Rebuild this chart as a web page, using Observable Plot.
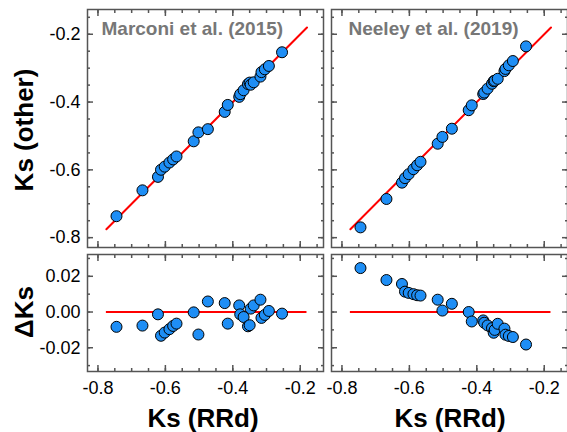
<!DOCTYPE html>
<html><head><meta charset="utf-8">
<script src="https://cdn.jsdelivr.net/npm/d3@7"></script>
<script src="https://cdn.jsdelivr.net/npm/@observablehq/plot@0.6"></script>
<style>
body{margin:0;background:#fff;}
#chart{position:relative;width:567px;height:432px;overflow:hidden;font-family:"Liberation Sans",Arial,Helvetica,sans-serif;}
#chart svg{position:absolute;overflow:visible;}
.lab{position:absolute;font-weight:bold;font-size:26px;line-height:1;color:#000;white-space:nowrap;transform:translate(-50%,-50%);}
.rot{transform:translate(-50%,-50%) rotate(-90deg);}
</style></head><body><div id="chart"></div>
<script>
// Data: Ks from RRd (x) and differences ΔKs = Ks(RRd) - Ks(other)
const ksRRd    = [-0.745,-0.668,-0.622,-0.613,-0.602,-0.588,-0.577,-0.567,-0.516,-0.502,-0.474,-0.424,-0.415,-0.381,-0.378,-0.368,-0.355,-0.350,-0.347,-0.338,-0.318,-0.315,-0.305,-0.293,-0.254];
const dMarconi = [-0.0083,-0.0076,-0.0013,-0.0133,-0.0115,-0.0096,-0.0078,-0.0065,-0.0002,-0.0126,0.0059,0.0050,-0.0065,0.0037,-0.0013,-0.0028,-0.0080,-0.0074,0.0019,0.0037,0.0069,-0.0033,-0.0016,0.0006,-0.0009];
const dNeeley  = [0.0246,0.0179,0.0157,0.0114,0.0107,0.0100,0.0094,0.0092,0.0069,0.0008,0.0046,0.0000,-0.0053,-0.0047,-0.0060,-0.0075,-0.0090,-0.0116,-0.0100,-0.0066,-0.0093,-0.0127,-0.0134,-0.0140,-0.0182];
const refLineX = [-0.775, -0.18];
const titles = ["Marconi et al. (2015)", "Neeley et al. (2019)"];
const xMajor = [-0.8,-0.6,-0.4,-0.2];
const xMinor = [-0.8,-0.75,-0.7,-0.65,-0.6,-0.55,-0.5,-0.45,-0.4,-0.35,-0.3,-0.25,-0.2,-0.15];
const yTopMajor = [-0.8,-0.6,-0.4,-0.2];
const yTopMinor = [-0.8,-0.75,-0.7,-0.65,-0.6,-0.55,-0.5,-0.45,-0.4,-0.35,-0.3,-0.25,-0.2,-0.15];
const yBotMajor = [-0.02,0.00,0.02];
const yBotMinor = [-0.03,-0.02,-0.01,0.00,0.01,0.02,0.03];
const xDomain = [-0.831,-0.131];
const yTopDomain = [-0.829,-0.127];
const yBotDomain = [-0.0333,0.0322];

const chart = document.getElementById("chart");
const frameColor = "#555";
const ml=60, mr=14, mt=10, mb=40;

function tickAxes(kind, anchors, major, minor){
  const f = kind === "x" ? Plot.axisX : Plot.axisY;
  return anchors.flatMap(a => [
    f(major, {anchor:a, tickSize:-6, fill:"none", stroke:frameColor, strokeWidth:1.5, label:null}),
    f(minor, {anchor:a, tickSize:-3, fill:"none", stroke:frameColor, strokeWidth:1.5, label:null})
  ]);
}

function makePanel(o){
  const pts = ksRRd.map((x,i)=>({x, y: o.top ? x - o.d[i] : o.d[i]}));
  const marks = [];
  if (o.top) marks.push(Plot.line(refLineX.map(v=>({x:v,y:v})), {x:"x", y:"y", stroke:"red", strokeWidth:2}));
  else marks.push(Plot.ruleY([0], {x1: refLineX[0], x2: refLineX[1], stroke:"red", strokeWidth:2}));
  marks.push(Plot.dot(pts, {x:"x", y:"y", r:5.5, fill:"#1e8ef5", stroke:"#000", strokeWidth:1}));
  marks.push(Plot.frame({stroke:frameColor, strokeWidth:1.5}));
  marks.push(...tickAxes("x", ["bottom","top"], xMajor, xMinor));
  marks.push(...tickAxes("y", ["left","right"], o.top ? yTopMajor : yBotMajor, o.top ? yTopMinor : yBotMinor));
  if (o.title) marks.push(Plot.text([o.title], {frameAnchor:"top-left", dx:o.titleDx, dy:12, fontSize:19, fontWeight:"bold", fill:"#777", text:d=>d}));
  if (!o.top) marks.push(Plot.axisX(xMajor, {anchor:"bottom", tickSize:0, tickPadding:10, fontSize:18, fill:"#000", label:null, tickFormat:d=>d.toFixed(1)}));
  if (o.yLabels) marks.push(Plot.axisY(o.top ? yTopMajor : yBotMajor, {anchor:"left", tickSize:0, tickPadding:7, fontSize:18, fill:"#000", label:null, tickFormat:d=> o.top ? d.toFixed(1) : d.toFixed(2)}));
  const svg = Plot.plot({
    width: ml + o.w + mr, height: mt + o.h + mb,
    marginLeft: ml, marginRight: mr, marginTop: mt, marginBottom: mb,
    x: {domain: xDomain, label:null},
    y: {domain: o.top ? yTopDomain : yBotDomain, label:null},
    style: {fontFamily:'"Liberation Sans",Arial,Helvetica,sans-serif', fontSize:"18px", background:"transparent", overflow:"visible"},
    marks
  });
  svg.style.left = (o.left - ml) + "px";
  svg.style.top = (o.topPx - mt) + "px";
  chart.appendChild(svg);
}

makePanel({top:true, d:dMarconi, title:titles[0], titleDx:14, yLabels:true, left:87, topPx:9, w:236, h:238});
makePanel({top:true, d:dNeeley, title:titles[1], titleDx:17, yLabels:false, left:331, topPx:9, w:236, h:238});
makePanel({top:false, d:dMarconi, yLabels:true, left:87, topPx:254, w:236, h:117});
makePanel({top:false, d:dNeeley, yLabels:false, left:331, topPx:254, w:236, h:117});

function label(text, x, y, rot){
  const el = document.createElement("div");
  el.className = "lab" + (rot ? " rot" : "");
  el.textContent = text;
  el.style.left = x + "px"; el.style.top = y + "px";
  chart.appendChild(el);
}
label("Ks (other)", 24, 130, true);
label("ΔKs", 24, 312, true);
label("Ks (RRd)", 203, 418, false);
label("Ks (RRd)", 450, 418, false);
</script></body></html>
